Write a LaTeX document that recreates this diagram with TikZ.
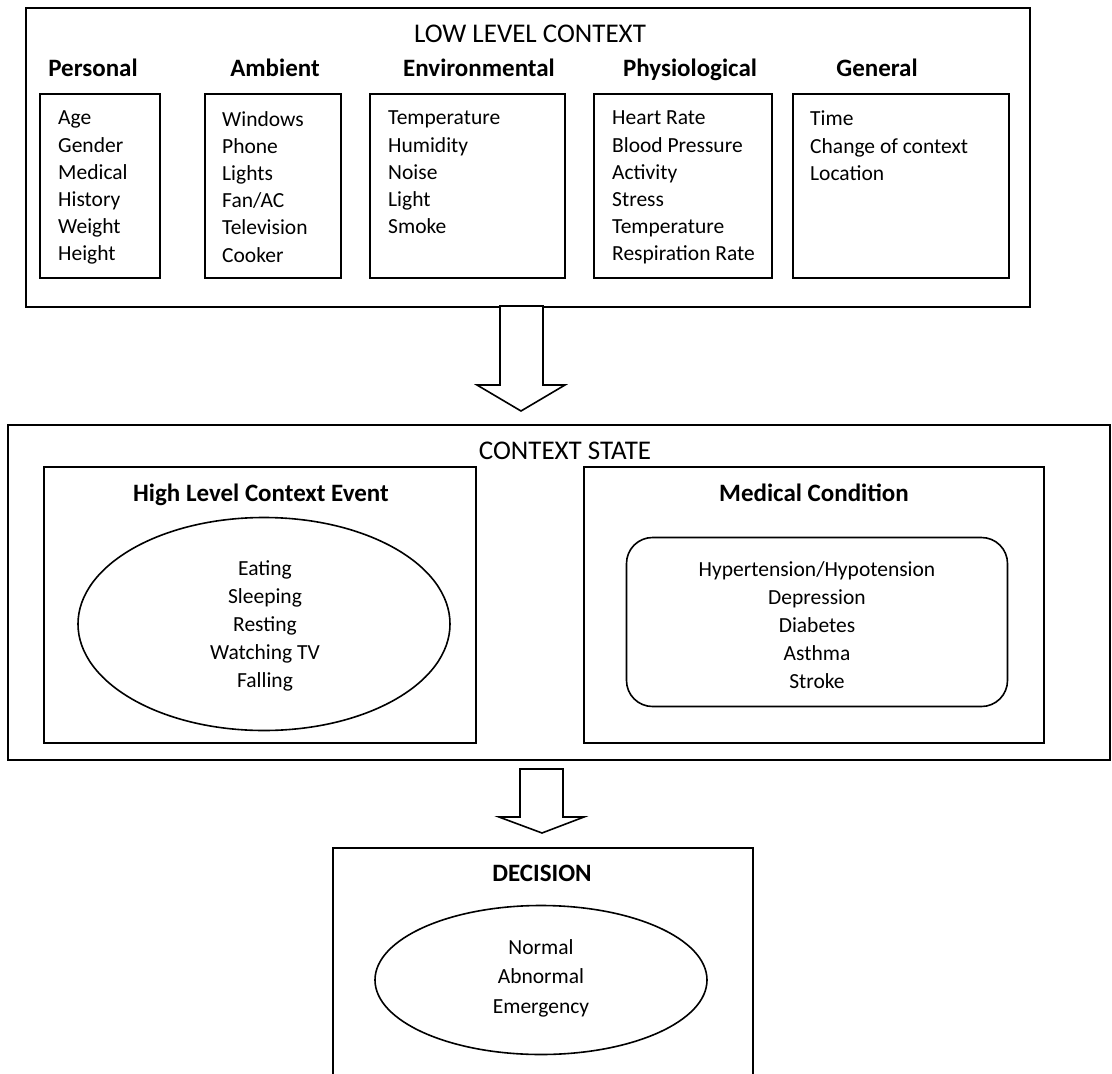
\documentclass[tikz,border=0pt]{standalone}
\usepackage{fontspec}
\setmainfont{Carlito}
\usetikzlibrary{shapes.geometric,calc}
\begin{document}
\begin{tikzpicture}[x=1pt,y=-1pt,
  box/.style={draw,line width=1.6pt,rectangle,inner sep=0pt,anchor=north west},
  title/.style={font=\fontsize{27}{30}\selectfont,inner sep=0pt,anchor=base},
  head/.style={font=\bfseries\fontsize{25}{30}\selectfont,inner sep=0pt,anchor=base},
  list/.style={font=\fontsize{21.5}{27.2}\selectfont,align=left,inner sep=0pt,anchor=north west},
  clist/.style={font=\fontsize{21.5}{28}\selectfont,align=center,inner sep=0pt},
  blockarrow/.style={draw,line width=1.6pt,fill=white,line join=miter}]
\useasboundingbox (0,0) rectangle (1112,1074);
\clip (0,0) rectangle (1112,1074);
% ---------- low level context ----------
\node[box,minimum width=1004pt,minimum height=299pt] (low) at (25,7) {};
\node[title] (lowt) at (530,42) {LOW LEVEL CONTEXT};
\node[head] (hp) at (93,76) {Personal};
\node[head] (ha) at (275,76) {Ambient};
\node[head] (he) at (479,76) {Environmental};
\node[head] (hph) at (690,76) {Physiological};
\node[head] (hg) at (877,76) {General};
\node[box,minimum width=120pt,minimum height=184pt] (bp) at (39,93) {};
\node[box,minimum width=136pt,minimum height=184pt] (ba) at (204,93) {};
\node[box,minimum width=195pt,minimum height=184pt] (be) at (369,93) {};
\node[box,minimum width=178pt,minimum height=184pt] (bph) at (593,93) {};
\node[box,minimum width=216pt,minimum height=184pt] (bg) at (792,93) {};
\node[list] (lp) at (58,111) {Age\\Gender\\Medical\\History\\Weight\\Height};
\node[list] (la) at (222,111) {Windows\\Phone\\Lights\\Fan/AC\\Television\\Cooker};
\node[list] (le) at (388,111) {Temperature\\Humidity\\Noise\\Light\\Smoke};
\node[list] (lph) at (612,111) {Heart Rate\\Blood Pressure\\Activity\\Stress\\Temperature\\Respiration Rate};
\node[list] (lg) at (810,111) {Time\\Change of context\\Location};
% ---------- arrow 1 ----------
\coordinate (a1) at (521,306);
\draw[blockarrow] ($(a1)+(-21,0)$) -- ($(a1)+(22,0)$) -- ($(a1)+(22,79)$) -- ($(a1)+(44,79)$)
  -- ($(a1)+(0,105)$) -- ($(a1)+(-44,79)$) -- ($(a1)+(-21,79)$) -- cycle;
% ---------- context state ----------
\node[box,minimum width=1102pt,minimum height=335pt] (state) at (7,424) {};
\node[title] (statet) at (565,459) {CONTEXT STATE};
\node[box,minimum width=432pt,minimum height=276pt] (hl) at (43,466) {};
\node[box,minimum width=460pt,minimum height=276pt] (mc) at (583,466) {};
\node[head] (hlt) at (261,501) {High Level Context Event};
\node[head] (mct) at (814,501) {Medical Condition};
\node[draw,line width=1.6pt,ellipse,minimum width=372pt,minimum height=213pt,inner sep=0pt] (ev) at (264,624) {};
\node[clist] (evt) at (265,626) {Eating\\Sleeping\\Resting\\Watching TV\\Falling};
\node[draw,line width=1.6pt,rounded corners=26pt,minimum width=381pt,minimum height=169pt,inner sep=0pt] (cond) at (817,622) {};
\node[clist] (condt) at (817,625) {Hypertension/Hypotension\\Depression\\Diabetes\\Asthma\\Stroke};
% ---------- arrow 2 ----------
\coordinate (a2) at (542,769);
\draw[blockarrow] ($(a2)+(-22,0)$) -- ($(a2)+(21,0)$) -- ($(a2)+(21,48)$) -- ($(a2)+(42,48)$)
  -- ($(a2)+(0,64)$) -- ($(a2)+(-43,48)$) -- ($(a2)+(-22,48)$) -- cycle;
% ---------- decision ----------
\node[box,minimum width=420pt,minimum height=260pt] (dec) at (332,847) {};
\node[head] (dect) at (542,881) {DECISION};
\node[draw,line width=1.6pt,ellipse,minimum width=332pt,minimum height=149pt,inner sep=0pt] (dell) at (541,980) {};
\node[clist,font=\fontsize{21.5}{29.5}\selectfont] (delt) at (541,978) {Normal\\Abnormal\\Emergency};
\end{tikzpicture}
\end{document}
